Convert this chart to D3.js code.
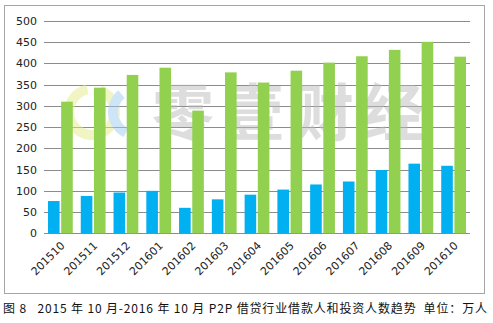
<!DOCTYPE html>
<html><head><meta charset="utf-8">
<script src="https://cdn.jsdelivr.net/npm/d3@7"></script>
<style>html,body{margin:0;padding:0;background:#fff;}svg{display:block;}</style>
</head><body><svg id="c" width="493" height="323"></svg>
<script>
const categories = ["201510","201511","201512","201601","201602","201603","201604","201605","201606","201607","201608","201609","201610"];
const borrowers = [76, 88, 96, 100, 60, 80, 91, 103, 115, 122, 149, 164, 159];
const investors = [310, 343, 373, 390, 289, 379, 355, 383, 402, 417, 432, 451, 416];
const yTicks = [0, 50, 100, 150, 200, 250, 300, 350, 400, 450, 500];
const seriesNames = ["借款人", "投资人"];
const colors = ["#00B0F0", "#92D050"];
const caption = "图 8   2015 年 10 月-2016 年 10 月 P2P 借贷行业借款人和投资人数趋势  单位：万人";
const watermark = "零壹财经";

const svg = d3.select("#c");
const m = {left: 44, right: 470, top: 21, bottom: 233.3};

// outer border
svg.append("rect").attr("x", 4.5).attr("y", 5.5).attr("width", 480).attr("height", 288)
  .attr("fill", "#fff").attr("stroke", "#a6a6a6").attr("stroke-width", 1);

const x0 = d3.scaleBand().domain(categories).range([m.left, m.right]).padding(0);
const x1 = d3.scaleBand().domain(seriesNames).range([4, x0.bandwidth() - 4]).paddingInner(0.12);
const y = d3.scaleLinear().domain([0, 500]).range([m.bottom, m.top]);

// gridlines
svg.append("g").selectAll("line").data(yTicks).join("line")
  .attr("x1", m.left).attr("x2", m.right)
  .attr("y1", d => Math.round(y(d)) + 0.5).attr("y2", d => Math.round(y(d)) + 0.5)
  .attr("stroke", "#8c8c8c").attr("stroke-width", 1);

// watermark (behind bars)
const wm = svg.append("g").attr("opacity", 0.5);
const arc = d3.arc();
wm.append("path").attr("transform", "translate(92,112)")
  .attr("d", arc({innerRadius: 18, outerRadius: 28, startAngle: 0.35, endAngle: 2 * Math.PI - 0.2}))
  .attr("fill", "#e4ec8a");
wm.append("path").attr("transform", "translate(136,112)")
  .attr("d", arc({innerRadius: 18, outerRadius: 28, startAngle: 3.6, endAngle: 5.6}))
  .attr("fill", "#9fcdf0");
wm.append("text").attr("x", 152).attr("y", 136)
  .attr("font-family", "Noto Sans CJK SC").attr("font-weight", 700).attr("font-size", 62)
  .attr("letter-spacing", 8).attr("fill", "#bdbdbd").text(watermark);

// bars
const groups = svg.append("g").selectAll("g").data(categories).join("g")
  .attr("transform", d => `translate(${x0(d)},0)`);
groups.selectAll("rect").data((d, i) => [borrowers[i], investors[i]].map((v, k) => ({k, v})))
  .join("rect")
  .attr("x", d => x1(seriesNames[d.k]))
  .attr("width", x1.bandwidth())
  .attr("y", d => y(d.v))
  .attr("height", d => y(0) - y(d.v))
  .attr("fill", d => colors[d.k]);

// y axis labels
const yAxis = d3.axisLeft(y).tickValues(yTicks).tickSize(0).tickPadding(7);
const gy = svg.append("g").attr("transform", `translate(${m.left},0)`).call(yAxis);
gy.select(".domain").remove();
gy.selectAll("text").attr("font-family", "DejaVu Sans").attr("font-size", 11).attr("fill", "#222");

// x axis labels
const xAxis = d3.axisBottom(x0).tickSize(0).tickPadding(0);
const gx = svg.append("g").attr("transform", `translate(0,${m.bottom})`).call(xAxis);
gx.select(".domain").remove();
gx.selectAll("text").attr("font-family", "DejaVu Sans").attr("font-size", 11).attr("fill", "#222")
  .attr("text-anchor", "end").attr("dy", null).attr("y", 0)
  .attr("transform", "translate(5,13) rotate(-45)");

// caption
svg.append("text").attr("x", 3).attr("y", 313)
  .style("white-space", "pre")
  .attr("font-family", "Noto Sans CJK SC").attr("font-size", 12).attr("fill", "#111")
  .attr("textLength", 484).attr("lengthAdjust", "spacing")
  .text(caption);
</script></body></html>
